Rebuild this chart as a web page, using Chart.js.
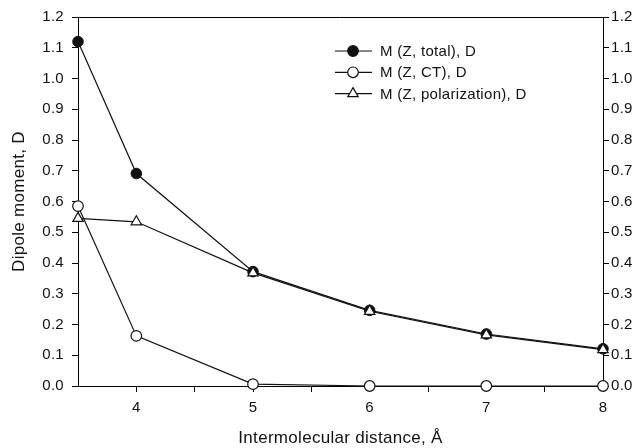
<!DOCTYPE html>
<html>
<head>
<meta charset="utf-8">
<script src="https://cdn.jsdelivr.net/npm/chart.js@4/dist/chart.umd.min.js"></script>
<style>
    html, body { margin: 0; padding: 0; background: #fff; }
    canvas { display: block; }
</style>
</head>
<body>
<canvas id="dipoleChart" width="641" height="448"></canvas>
<script>
// data
const distances = [3.5, 4, 5, 6, 7, 8];
const totalMoment = [1.12, 0.691, 0.372, 0.246, 0.169, 0.121];
const ctMoment = [0.585, 0.163, 0.006, 0, 0, 0];
const polarMoment = [0.545, 0.534, 0.368, 0.243, 0.166, 0.118];
const seriesNames = ['M (Z, total), D', 'M (Z, CT), D', 'M (Z, polarization), D'];
const xLabels = [4, 5, 6, 7, 8];

const FONT = "'Liberation Sans', Arial, Helvetica, sans-serif";
const INK = '#111';

function toPoints(values) {
    return distances.map((x, i) => ({ x: x, y: values[i] }));
}

// the original lettering is a touch wider than Arial
const spacing = {
    id: 'spacing',
    beforeUpdate(chart) { chart.ctx.letterSpacing = '0.3px'; },
    beforeDraw(chart) { chart.ctx.letterSpacing = '0.3px'; }
};

// top frame line + legend inside the plot
const frameAndLegend = {
    id: 'frameAndLegend',
    afterDraw(chart) {
        const ctx = chart.ctx;
        const area = chart.chartArea;
        ctx.save();
        ctx.strokeStyle = '#000';
        ctx.lineWidth = 1;
        ctx.beginPath();
        ctx.moveTo(area.left, area.top + 0.5);
        ctx.lineTo(area.right, area.top + 0.5);
        ctx.stroke();

        ctx.font = '15px ' + FONT;
        ctx.textBaseline = 'middle';
        chart.data.datasets.forEach((ds, i) => {
            const y = 51 + i * 21.3;
            ctx.strokeStyle = INK;
            ctx.lineWidth = 1.2;
            ctx.beginPath();
            ctx.moveTo(335, y);
            ctx.lineTo(372, y);
            ctx.stroke();
            drawMarker(ctx, ds.pointStyle, 353, y, ds.pointRadius, ds.pointBackgroundColor);
            ctx.fillStyle = INK;
            ctx.fillText(ds.label, 380, y + 1);
        });
        ctx.restore();
    }
};

function drawMarker(ctx, style, x, y, r, fill) {
    ctx.beginPath();
    if (style === 'triangle') {
        let rad = 0;
        ctx.moveTo(x + Math.sin(rad) * r, y - Math.cos(rad) * r);
        rad += 2 * Math.PI / 3;
        ctx.lineTo(x + Math.sin(rad) * r, y - Math.cos(rad) * r);
        rad += 2 * Math.PI / 3;
        ctx.lineTo(x + Math.sin(rad) * r, y - Math.cos(rad) * r);
        ctx.closePath();
    } else {
        ctx.arc(x, y, r, 0, Math.PI * 2);
    }
    ctx.fillStyle = fill;
    ctx.fill();
    ctx.lineWidth = 1.2;
    ctx.strokeStyle = INK;
    ctx.stroke();
}

const ctx = document.getElementById('dipoleChart').getContext('2d');
const dipoleChart = new Chart(ctx, {
    type: 'scatter',
    data: {
        datasets: [
            {
                label: seriesNames[0],
                data: toPoints(totalMoment),
                showLine: true,
                borderColor: INK,
                borderWidth: 1.2,
                pointStyle: 'circle',
                pointRadius: 5.3,
                pointBackgroundColor: INK,
                pointBorderColor: INK,
                pointBorderWidth: 1,
                clip: false,
                order: 3
            },
            {
                label: seriesNames[1],
                data: toPoints(ctMoment),
                showLine: true,
                borderColor: INK,
                borderWidth: 1.2,
                pointStyle: 'circle',
                pointRadius: 5.3,
                pointBackgroundColor: '#fff',
                pointBorderColor: INK,
                pointBorderWidth: 1.2,
                clip: false,
                order: 2
            },
            {
                label: seriesNames[2],
                data: toPoints(polarMoment),
                showLine: true,
                borderColor: INK,
                borderWidth: 1.2,
                pointStyle: 'triangle',
                pointRadius: 6,
                pointBackgroundColor: '#fff',
                pointBorderColor: INK,
                pointBorderWidth: 1.2,
                clip: false,
                order: 1
            }
        ]
    },
    options: {
        responsive: false,
        animation: false,
        layout: { padding: { top: 17, right: 0, bottom: 0, left: 0 } },
        plugins: {
            legend: { display: false },
            tooltip: { enabled: false }
        },
        scales: {
            x: {
                type: 'linear',
                min: 3.5,
                max: 8,
                afterFit(scale) { scale.height = 62; },
                afterBuildTicks(scale) {
                    const ticks = [];
                    for (let v = 3.5; v <= 8; v += 0.5) ticks.push({ value: v });
                    scale.ticks = ticks;
                },
                border: { color: '#000', width: 1 },
                grid: {
                    drawOnChartArea: false,
                    tickLength: 6,
                    tickColor: c => (c.tick && c.tick.value === 3.5) ? 'rgba(0,0,0,0)' : '#000'
                },
                ticks: {
                    color: INK,
                    padding: 7,
                    maxRotation: 0,
                    autoSkip: false,
                    font: { family: FONT, size: 15 },
                    callback: v => xLabels.includes(v) ? String(v) : ''
                },
                title: {
                    display: true,
                    text: 'Intermolecular distance, Å',
                    color: INK,
                    padding: 1,
                    font: { family: FONT, size: 17, lineHeight: 1 }
                }
            },
            y: {
                position: 'left',
                min: 0,
                max: 1.2,
                afterFit(scale) { scale.width = 78; },
                border: { color: '#000', width: 1 },
                grid: { drawOnChartArea: false, tickLength: 6, tickColor: '#000' },
                ticks: {
                    stepSize: 0.1,
                    color: INK,
                    padding: 8,
                    font: { family: FONT, size: 15 },
                    callback: v => Number(v).toFixed(1)
                },
                title: {
                    display: true,
                    text: 'Dipole moment, D',
                    color: INK,
                    padding: 11,
                    font: { family: FONT, size: 17, lineHeight: 1 }
                }
            },
            y2: {
                position: 'right',
                min: 0,
                max: 1.2,
                afterFit(scale) { scale.width = 38; },
                border: { color: '#000', width: 1 },
                grid: { drawOnChartArea: false, tickLength: 6, tickColor: '#000' },
                ticks: {
                    stepSize: 0.1,
                    color: INK,
                    padding: 2,
                    font: { family: FONT, size: 15 },
                    callback: v => Number(v).toFixed(1)
                }
            }
        }
    },
    plugins: [spacing, frameAndLegend]
});
</script>
</body>
</html>
